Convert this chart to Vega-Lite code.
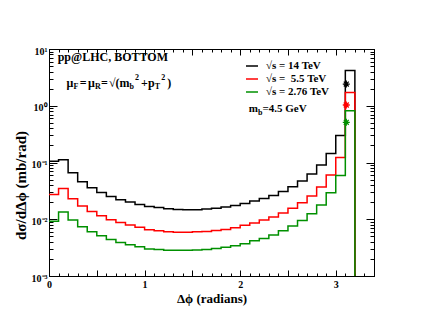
{
  "$schema": "https://vega.github.io/schema/vega-lite/v6.json",
  "width": 325,
  "height": 227,
  "autosize": {"type": "none"},
  "padding": {"left": 49, "top": 49, "right": 47, "bottom": 49},
  "background": "white",
  "config": {
    "view": {"stroke": "black", "strokeWidth": 1},
    "axis": {
      "grid": false,
      "domainColor": "black",
      "domainWidth": 1,
      "tickColor": "black",
      "tickWidth": 1,
      "tickSize": -3,
      "labelColor": "black",
      "titleColor": "black",
      "labelFont": "Liberation Serif",
      "titleFont": "Liberation Serif",
      "labelFontWeight": "bold",
      "titleFontWeight": "bold",
      "labelFontSize": 10,
      "labelOverlap": false,
      "labelFlush": false
    },
    "text": {"font": "Liberation Serif", "fontWeight": "bold", "color": "black"}
  },
  "datasets": {
    "hist": [
      {"s": "14", "x": 0.0, "v": 0.105}, {"s": "14", "x": 0.1, "v": 0.112}, {"s": "14", "x": 0.2, "v": 0.066}, {"s": "14", "x": 0.3, "v": 0.046},
      {"s": "14", "x": 0.4, "v": 0.036}, {"s": "14", "x": 0.5, "v": 0.0297}, {"s": "14", "x": 0.6, "v": 0.0252}, {"s": "14", "x": 0.7, "v": 0.0221},
      {"s": "14", "x": 0.8, "v": 0.0201}, {"s": "14", "x": 0.9, "v": 0.0182}, {"s": "14", "x": 1.0, "v": 0.0168}, {"s": "14", "x": 1.1, "v": 0.0161},
      {"s": "14", "x": 1.2, "v": 0.0153}, {"s": "14", "x": 1.3, "v": 0.0149}, {"s": "14", "x": 1.4, "v": 0.0147}, {"s": "14", "x": 1.5, "v": 0.0147},
      {"s": "14", "x": 1.6, "v": 0.0151}, {"s": "14", "x": 1.7, "v": 0.0157}, {"s": "14", "x": 1.8, "v": 0.0164}, {"s": "14", "x": 1.9, "v": 0.0175},
      {"s": "14", "x": 2.0, "v": 0.019}, {"s": "14", "x": 2.1, "v": 0.0209}, {"s": "14", "x": 2.2, "v": 0.0233}, {"s": "14", "x": 2.3, "v": 0.0263},
      {"s": "14", "x": 2.4, "v": 0.0309}, {"s": "14", "x": 2.5, "v": 0.0374}, {"s": "14", "x": 2.6, "v": 0.0471}, {"s": "14", "x": 2.7, "v": 0.0625},
      {"s": "14", "x": 2.8, "v": 0.09}, {"s": "14", "x": 2.9, "v": 0.144}, {"s": "14", "x": 3.0, "v": 0.3}, {"s": "14", "x": 3.1, "v": 4.2},
      {"s": "14", "x": 3.2, "v": 4.2}, {"s": "14", "x": 3.2, "v": 0.001},
      {"s": "5.5", "x": 0.0, "v": 0.0274}, {"s": "5.5", "x": 0.1, "v": 0.0349}, {"s": "5.5", "x": 0.2, "v": 0.023}, {"s": "5.5", "x": 0.3, "v": 0.0171},
      {"s": "5.5", "x": 0.4, "v": 0.0137}, {"s": "5.5", "x": 0.5, "v": 0.0115}, {"s": "5.5", "x": 0.6, "v": 0.0098}, {"s": "5.5", "x": 0.7, "v": 0.0088},
      {"s": "5.5", "x": 0.8, "v": 0.0079}, {"s": "5.5", "x": 0.9, "v": 0.0072}, {"s": "5.5", "x": 1.0, "v": 0.0065}, {"s": "5.5", "x": 1.1, "v": 0.00627},
      {"s": "5.5", "x": 1.2, "v": 0.006}, {"s": "5.5", "x": 1.3, "v": 0.0059}, {"s": "5.5", "x": 1.4, "v": 0.0059}, {"s": "5.5", "x": 1.5, "v": 0.006},
      {"s": "5.5", "x": 1.6, "v": 0.0061}, {"s": "5.5", "x": 1.7, "v": 0.00635}, {"s": "5.5", "x": 1.8, "v": 0.0066}, {"s": "5.5", "x": 1.9, "v": 0.0071},
      {"s": "5.5", "x": 2.0, "v": 0.0078}, {"s": "5.5", "x": 2.1, "v": 0.0086}, {"s": "5.5", "x": 2.2, "v": 0.0097}, {"s": "5.5", "x": 2.3, "v": 0.011},
      {"s": "5.5", "x": 2.4, "v": 0.0129}, {"s": "5.5", "x": 2.5, "v": 0.0157}, {"s": "5.5", "x": 2.6, "v": 0.0195}, {"s": "5.5", "x": 2.7, "v": 0.0256},
      {"s": "5.5", "x": 2.8, "v": 0.0369}, {"s": "5.5", "x": 2.9, "v": 0.06}, {"s": "5.5", "x": 3.0, "v": 0.123}, {"s": "5.5", "x": 3.1, "v": 1.71},
      {"s": "5.5", "x": 3.2, "v": 1.71}, {"s": "5.5", "x": 3.2, "v": 0.001},
      {"s": "2.76", "x": 0.0, "v": 0.0092}, {"s": "2.76", "x": 0.1, "v": 0.0134}, {"s": "2.76", "x": 0.2, "v": 0.0097}, {"s": "2.76", "x": 0.3, "v": 0.0074},
      {"s": "2.76", "x": 0.4, "v": 0.006}, {"s": "2.76", "x": 0.5, "v": 0.0051}, {"s": "2.76", "x": 0.6, "v": 0.0044}, {"s": "2.76", "x": 0.7, "v": 0.0039},
      {"s": "2.76", "x": 0.8, "v": 0.00356}, {"s": "2.76", "x": 0.9, "v": 0.00327}, {"s": "2.76", "x": 1.0, "v": 0.003}, {"s": "2.76", "x": 1.1, "v": 0.00294},
      {"s": "2.76", "x": 1.2, "v": 0.00283}, {"s": "2.76", "x": 1.3, "v": 0.00283}, {"s": "2.76", "x": 1.4, "v": 0.00283}, {"s": "2.76", "x": 1.5, "v": 0.00286},
      {"s": "2.76", "x": 1.6, "v": 0.00294}, {"s": "2.76", "x": 1.7, "v": 0.00306}, {"s": "2.76", "x": 1.8, "v": 0.0032}, {"s": "2.76", "x": 1.9, "v": 0.0034},
      {"s": "2.76", "x": 2.0, "v": 0.0037}, {"s": "2.76", "x": 2.1, "v": 0.0042}, {"s": "2.76", "x": 2.2, "v": 0.0046}, {"s": "2.76", "x": 2.3, "v": 0.00526},
      {"s": "2.76", "x": 2.4, "v": 0.0063}, {"s": "2.76", "x": 2.5, "v": 0.0076}, {"s": "2.76", "x": 2.6, "v": 0.0095}, {"s": "2.76", "x": 2.7, "v": 0.0125},
      {"s": "2.76", "x": 2.8, "v": 0.0178}, {"s": "2.76", "x": 2.9, "v": 0.0293}, {"s": "2.76", "x": 3.0, "v": 0.059}, {"s": "2.76", "x": 3.1, "v": 0.82},
      {"s": "2.76", "x": 3.2, "v": 0.82}, {"s": "2.76", "x": 3.2, "v": 0.001}
    ],
    "stars": [
      {"s": "14", "x": 3.11, "v": 2.41},
      {"s": "5.5", "x": 3.11, "v": 1.03},
      {"s": "2.76", "x": 3.11, "v": 0.51}
    ],
    "text12": [
      {"x": 0.091, "v": 7.16, "t": "pp@LHC, BOTTOM"},
      {"x": 0.183, "v": 2.54, "t": "μ"},
      {"x": 0.322, "v": 2.54, "t": "="},
      {"x": 0.407, "v": 2.54, "t": "μ"},
      {"x": 0.543, "v": 2.54, "t": "="},
      {"x": 0.627, "v": 2.54, "t": "√(m"},
      {"x": 0.963, "v": 2.54, "t": "+p"},
      {"x": 1.236, "v": 2.54, "t": ")"}
    ],
    "text11": [
      {"x": 2.09, "v": 0.875, "t": "m"},
      {"x": 2.234, "v": 0.875, "t": "=4.5 GeV"}
    ],
    "subs": [
      {"x": 0.256, "v": 2.54, "t": "F"},
      {"x": 0.48, "v": 2.54, "t": "R"},
      {"x": 0.843, "v": 2.54, "t": "b"},
      {"x": 1.106, "v": 2.54, "t": "T"},
      {"x": 2.187, "v": 0.875, "t": "b"}
    ],
    "sups": [
      {"x": 0.9, "v": 2.54, "t": "2"},
      {"x": 1.173, "v": 2.54, "t": "2"}
    ]
  },
  "layer": [
    {
      "data": {"name": "hist"},
      "mark": {"type": "line", "interpolate": "step-after", "strokeWidth": 1.5},
      "encoding": {
        "x": {
          "field": "x", "type": "quantitative",
          "scale": {"domain": [0, 3.4], "nice": false, "zero": false},
          "axis": {
            "orient": "bottom",
            "title": "Δϕ (radians)",
            "titleFontSize": 13,
            "titlePadding": 3,
            "labelPadding": 6,
            "values": [0, 0.1, 0.2, 0.3, 0.4, 0.5, 0.6, 0.7, 0.8, 0.9, 1, 1.1, 1.2, 1.3, 1.4, 1.5, 1.6, 1.7, 1.8, 1.9, 2, 2.1, 2.2, 2.3, 2.4, 2.5, 2.6, 2.7, 2.8, 2.9, 3, 3.1, 3.2, 3.3, 3.4],
            "labelExpr": "abs(datum.value - round(datum.value)) < 1e-6 ? format(datum.value, 'd') : ''",
            "encoding": {
              "ticks": {
                "y2": {
                  "condition": {"test": "abs(datum.value * 2 - round(datum.value * 2)) < 1e-6", "value": -6},
                  "value": -3
                }
              }
            }
          }
        },
        "y": {
          "field": "v", "type": "quantitative",
          "scale": {"type": "log", "domain": [0.001, 10], "nice": false},
          "axis": {
            "orient": "left",
            "title": "dσ/dΔϕ (mb/rad)",
            "titleFontSize": 15,
            "titlePadding": 3,
            "titleY": 136,
            "labelPadding": 5,
            "labelOffset": 2,
            "values": [0.001, 0.002, 0.003, 0.004, 0.005, 0.006, 0.007, 0.008, 0.009, 0.01, 0.02, 0.03, 0.04, 0.05, 0.06, 0.07, 0.08, 0.09, 0.1, 0.2, 0.3, 0.4, 0.5, 0.6, 0.7, 0.8, 0.9, 1, 2, 3, 4, 5, 6, 7, 8, 9, 10],
            "labelExpr": "abs(log(datum.value)/LN10 - round(log(datum.value)/LN10)) > 1e-6 ? '' : (round(log(datum.value)/LN10) == 1 ? '10¹' : round(log(datum.value)/LN10) == 0 ? '10⁰' : round(log(datum.value)/LN10) == -1 ? '10⁻¹' : round(log(datum.value)/LN10) == -2 ? '10⁻²' : '10⁻³')",
            "encoding": {
              "ticks": {
                "x2": {
                  "condition": {"test": "abs(log(datum.value)/LN10 - round(log(datum.value)/LN10)) < 1e-6", "value": 8},
                  "value": 4
                }
              }
            }
          }
        },
        "color": {
          "field": "s", "type": "nominal",
          "scale": {"domain": ["14", "5.5", "2.76"], "range": ["#000000", "#ff0000", "#009000"]},
          "legend": {
            "title": null,
            "orient": "none",
            "legendX": 196,
            "legendY": 10,
            "padding": 0,
            "symbolType": "stroke",
            "symbolSize": 144,
            "symbolStrokeWidth": 1.5,
            "labelFont": "Liberation Serif",
            "labelFontWeight": "bold",
            "labelFontSize": 11,
            "labelColor": "black",
            "labelOffset": 7,
            "rowPadding": 1,
            "labelExpr": "datum.label == '5.5' ? '√s = \u00a05.5 TeV' : '√s = ' + datum.label + ' TeV'"
          }
        }
      }
    },
    {
      "data": {"name": "stars"},
      "mark": {"type": "point", "shape": "M-1,0L1,0M0,-1L0,1M-0.7,-0.7L0.7,0.7M-0.7,0.7L0.7,-0.7", "filled": false, "size": 49, "strokeWidth": 1.3, "opacity": 1},
      "encoding": {
        "x": {
          "field": "x", "type": "quantitative",
          "axis": {
            "orient": "top", "title": null, "labels": false,
            "values": [0, 0.1, 0.2, 0.3, 0.4, 0.5, 0.6, 0.7, 0.8, 0.9, 1, 1.1, 1.2, 1.3, 1.4, 1.5, 1.6, 1.7, 1.8, 1.9, 2, 2.1, 2.2, 2.3, 2.4, 2.5, 2.6, 2.7, 2.8, 2.9, 3, 3.1, 3.2, 3.3, 3.4],
            "encoding": {
              "ticks": {
                "y2": {
                  "condition": {"test": "abs(datum.value * 2 - round(datum.value * 2)) < 1e-6", "value": 6},
                  "value": 3
                }
              }
            }
          }
        },
        "y": {
          "field": "v", "type": "quantitative",
          "axis": {
            "orient": "right", "title": null, "labels": false,
            "values": [0.001, 0.002, 0.003, 0.004, 0.005, 0.006, 0.007, 0.008, 0.009, 0.01, 0.02, 0.03, 0.04, 0.05, 0.06, 0.07, 0.08, 0.09, 0.1, 0.2, 0.3, 0.4, 0.5, 0.6, 0.7, 0.8, 0.9, 1, 2, 3, 4, 5, 6, 7, 8, 9, 10],
            "encoding": {
              "ticks": {
                "x2": {
                  "condition": {"test": "abs(log(datum.value)/LN10 - round(log(datum.value)/LN10)) < 1e-6", "value": -8},
                  "value": -4
                }
              }
            }
          }
        },
        "color": {"field": "s", "type": "nominal", "legend": null}
      }
    },
    {
      "data": {"name": "text12"},
      "mark": {"type": "text", "fontSize": 12, "align": "left", "baseline": "middle"},
      "encoding": {
        "x": {"field": "x", "type": "quantitative", "axis": null},
        "y": {"field": "v", "type": "quantitative", "axis": null},
        "text": {"field": "t"}
      }
    },
    {
      "data": {"name": "text11"},
      "mark": {"type": "text", "fontSize": 11, "align": "left", "baseline": "middle"},
      "encoding": {
        "x": {"field": "x", "type": "quantitative", "axis": null},
        "y": {"field": "v", "type": "quantitative", "axis": null},
        "text": {"field": "t"}
      }
    },
    {
      "data": {"name": "subs"},
      "mark": {"type": "text", "fontSize": 8, "align": "left", "baseline": "middle", "dy": 4},
      "encoding": {
        "x": {"field": "x", "type": "quantitative", "axis": null},
        "y": {"field": "v", "type": "quantitative", "axis": null},
        "text": {"field": "t"}
      }
    },
    {
      "data": {"name": "sups"},
      "mark": {"type": "text", "fontSize": 8, "align": "left", "baseline": "middle", "dy": -5},
      "encoding": {
        "x": {"field": "x", "type": "quantitative", "axis": null},
        "y": {"field": "v", "type": "quantitative", "axis": null},
        "text": {"field": "t"}
      }
    }
  ]
}
